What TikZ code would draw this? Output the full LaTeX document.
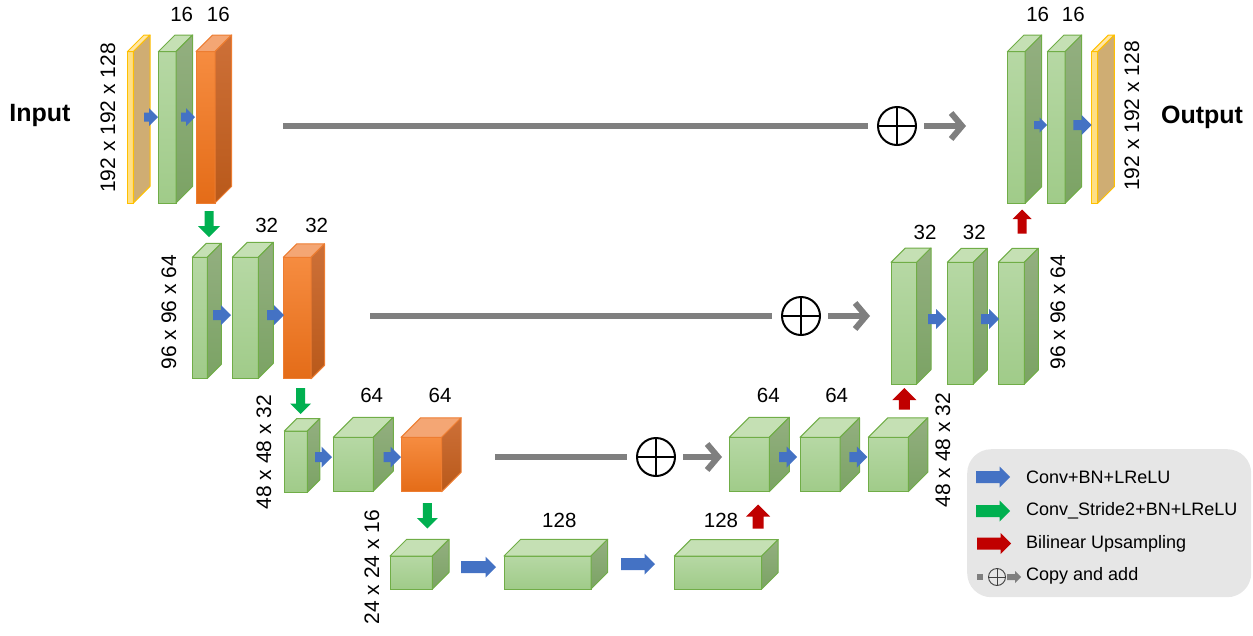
\documentclass[tikz,border=0pt]{standalone}
\usepackage{fontspec}
\setmainfont{Liberation Sans}
\usetikzlibrary{arrows.meta,calc}
\definecolor{gborder}{HTML}{70AD47}
\definecolor{gfronttop}{HTML}{B6D8A4}
\definecolor{gfrontbot}{HTML}{A0CB89}
\definecolor{gtopc}{HTML}{C5E0B4}
\definecolor{gsidetop}{HTML}{93AF80}
\definecolor{gsidebot}{HTML}{7BA364}
\definecolor{oborder}{HTML}{ED7D31}
\definecolor{ofronttop}{HTML}{F68C40}
\definecolor{ofrontbot}{HTML}{E46C18}
\definecolor{otopc}{HTML}{F4A674}
\definecolor{osidetop}{HTML}{CD7038}
\definecolor{osidebot}{HTML}{B9591A}
\definecolor{yborder}{HTML}{FFC000}
\definecolor{yfrontc}{HTML}{FFDF85}
\definecolor{ytopc}{HTML}{FFE6A6}
\definecolor{ysidec}{HTML}{CFAD73}
\definecolor{arrblue}{HTML}{4472C4}
\definecolor{arrgreen}{HTML}{00B050}
\definecolor{arrred}{HTML}{C00000}
\definecolor{skipgray}{HTML}{7F7F7F}
\definecolor{leggray}{HTML}{E6E6E6}
\tikzset{
  gfront/.style={draw=gborder, line width=1pt, top color=gfronttop, bottom color=gfrontbot, inner sep=0pt, outer sep=0pt},
  gtop/.style={draw=gborder, line width=1pt, fill=gtopc, line join=round},
  gside/.style={draw=gborder, line width=1pt, top color=gsidetop, bottom color=gsidebot, line join=round},
  ofront/.style={draw=oborder, line width=1pt, top color=ofronttop, bottom color=ofrontbot, inner sep=0pt, outer sep=0pt},
  otop/.style={draw=oborder, line width=1pt, fill=otopc, line join=round},
  oside/.style={draw=oborder, line width=1pt, top color=osidetop, bottom color=osidebot, line join=round},
  yfront/.style={draw=yborder, line width=1pt, fill=yfrontc, inner sep=0pt, outer sep=0pt},
  ytop/.style={draw=yborder, line width=1pt, fill=ytopc, line join=round},
  yside/.style={draw=yborder, line width=1pt, fill=ysidec, line join=round},
  num/.style={font=\fontsize{20.5}{24}\selectfont, inner sep=0pt},
  dimlab/.style={font=\fontsize{21}{25}\selectfont, rotate=90, inner sep=0pt},
  legtext/.style={font=\fontsize{18}{22}\selectfont, anchor=west, inner sep=0pt},
  iolab/.style={font=\fontsize{25}{30}\selectfont\bfseries, inner sep=0pt},
  oplus/.style={circle, draw, line width=2pt, minimum size=38pt, inner sep=0pt,
    path picture={\draw[line width=2pt] (path picture bounding box.north) -- (path picture bounding box.south)
      (path picture bounding box.west) -- (path picture bounding box.east);}},
  skipline/.style={draw=skipgray, line width=6pt},
  skiparrow/.style={draw=skipgray, line width=6pt, -{Straight Barb[length=11pt,width=26pt]}},
}
% block: name, x, y (front top-left), w, h, depth, style prefix
\newcommand\blk[7]{%
  \node[#7front, minimum width=#4pt, minimum height=#5pt, anchor=north west] (#1) at (#2,#3) {};
  \draw[#7top] (#1.north west) -- ++(#6,-#6) -- ++(#4,0) -- (#1.north east) -- cycle;
  \draw[#7side] (#1.north east) -- ++(#6,-#6) -- ++(0,#5) -- (#1.south east) -- cycle;
}
% fat arrow: tail x, tail y, angle, length, head width, shaft width, colour
\newcommand\farr[7]{%
  \fill[#7, shift={(#1,#2)}, rotate=#3] (0,-#6/2) -- ({#4-#5/2},-#6/2) -- ({#4-#5/2},-#5/2) -- (#4,0)
    -- ({#4-#5/2},#5/2) -- ({#4-#5/2},#6/2) -- (0,#6/2) -- cycle;
}
\begin{document}
\begin{tikzpicture}[x=1pt,y=-1pt]
\useasboundingbox (0,0) rectangle (1253,635);

% ---------- level 1 left
\blk{y1}{127.3}{51.7}{6}{151.3}{16.7}{y}
\blk{g1}{158.3}{51.7}{17.7}{151.3}{16.7}{g}
\blk{o1}{196}{51.7}{19}{151.3}{16.7}{o}
% ---------- level 2 left
\blk{g2a}{192.3}{257.3}{15}{121}{14}{g}
\blk{g2b}{232.3}{257.3}{26}{121}{15}{g}
\blk{o2}{283.3}{257.3}{27.7}{121.5}{13.5}{o}
% ---------- level 3 left
\blk{g3a}{284.3}{431}{23}{61.3}{12.5}{g}
\blk{g3b}{333.3}{437.3}{40}{53.7}{20}{g}
\blk{o3}{401}{437.3}{40.7}{54.4}{19.5}{o}
% ---------- bottom
\blk{b1}{390}{556}{42.3}{33}{16.7}{g}
\blk{b2}{504}{556}{87}{33}{16.7}{g}
\blk{b3}{674.3}{556}{87.4}{33}{16.5}{g}
% ---------- level 3 right
\blk{r3a}{729.3}{437.3}{40}{54.4}{20}{g}
\blk{r3b}{800}{437.3}{40}{54.4}{19.5}{g}
\blk{r3c}{868.3}{437.3}{40}{54.4}{19.5}{g}
% ---------- level 2 right
\blk{r2a}{891}{262.3}{25.7}{121.7}{14.3}{g}
\blk{r2b}{947.3}{262.3}{26}{121.7}{14}{g}
\blk{r2c}{998.3}{262.3}{26}{121.7}{14}{g}
% ---------- level 1 right
\blk{r1a}{1007.3}{51.7}{17.7}{151.6}{16.7}{g}
\blk{r1b}{1047.3}{51.7}{17.7}{151.6}{16.7}{g}
\blk{ry}{1091.7}{51.7}{6}{151.6}{16.6}{y}

% ---------- blue conv arrows
\farr{144}{117}{0}{14}{18}{9}{arrblue}
\farr{181}{117}{0}{14}{18}{9}{arrblue}
\farr{213}{315}{0}{18}{20}{10}{arrblue}
\farr{267}{315}{0}{17}{20}{10}{arrblue}
\farr{315}{457}{0}{17}{21}{10}{arrblue}
\farr{383.5}{457}{0}{17.5}{21}{10}{arrblue}
\farr{461}{567}{0}{35}{21}{12}{arrblue}
\farr{621}{564}{0}{34}{21}{12}{arrblue}
\farr{779}{457}{0}{18}{21}{10}{arrblue}
\farr{849.3}{457}{0}{18}{21}{10}{arrblue}
\farr{928}{319}{0}{18}{20}{10}{arrblue}
\farr{981}{319}{0}{18}{20}{10}{arrblue}
\farr{1034}{125}{0}{13}{15}{8}{arrblue}
\farr{1073.3}{125}{0}{18.4}{20}{10}{arrblue}

% ---------- green stride arrows
\farr{209}{211}{-90}{26}{22}{9}{arrgreen}
\farr{300.7}{388}{-90}{26}{21}{9}{arrgreen}
\farr{427.3}{503}{-90}{25.5}{21}{9}{arrgreen}

% ---------- red upsampling arrows
\farr{758}{528.5}{90}{24}{24}{11}{arrred}
\farr{904.3}{409.5}{90}{21.5}{24}{11}{arrred}
\farr{1022}{233.5}{90}{24}{19}{9}{arrred}

% ---------- skip connections
\coordinate (s1) at (283,126);
\node[oplus] (p1) at (897,126) {};
\coordinate (t1) at (966,126);
\draw[skipline] (s1) -- ([xshift=-9pt]p1.west);
\draw[skiparrow] ([xshift=7pt]p1.east) -- (t1);

\coordinate (s2) at (370,316);
\node[oplus] (p2) at (801,316) {};
\coordinate (t2) at (870,316);
\draw[skipline] (s2) -- ([xshift=-9pt]p2.west);
\draw[skiparrow] ([xshift=7pt]p2.east) -- (t2);

\coordinate (s3) at (495,457);
\node[oplus] (p3) at (656,457) {};
\coordinate (t3) at (722,457);
\draw[skipline] (s3) -- ([xshift=-9pt]p3.west);
\draw[skiparrow] ([xshift=7pt]p3.east) -- (t3);

% ---------- channel numbers
\node[num] (n1a) at (181.7,14) {16};
\node[num] (n1b) at (218.3,14) {16};
\node[num] (n2a) at (266.7,225) {32};
\node[num] (n2b) at (316.7,225) {32};
\node[num] (n3a) at (371.7,395) {64};
\node[num] (n3b) at (440,395) {64};
\node[num] (n4a) at (559.3,520) {128};
\node[num] (n4b) at (721,520) {128};
\node[num] (m3a) at (768.3,395) {64};
\node[num] (m3b) at (836.7,395) {64};
\node[num] (m2a) at (925,232) {32};
\node[num] (m2b) at (974.3,232) {32};
\node[num] (m1a) at (1037.7,14) {16};
\node[num] (m1b) at (1073.3,14) {16};

% ---------- dimension labels
\node[dimlab] (d1) at (108,118) {192 x 192 x 128};
\node[dimlab] (d2) at (169,312) {96 x 96 x 64};
\node[dimlab] (d3) at (264,452) {48 x 48 x 32};
\node[dimlab] (d4) at (372,567) {24 x 24 x 16};
\node[dimlab] (e3) at (943,450) {48 x 48 x 32};
\node[dimlab] (e2) at (1058,312) {96 x 96 x 64};
\node[dimlab] (e1) at (1132,116) {192 x 192 x 128};

\node[iolab] (inp) at (40,115) {Input};
\node[iolab] (outp) at (1202,117) {Output};

% ---------- legend
\node[fill=leggray, rounded corners=24pt, minimum width=284pt, minimum height=148pt, anchor=north west, inner sep=0pt] (legend) at (967,449) {};
\farr{976}{477}{0}{34}{21}{12}{arrblue}
\farr{976}{511}{0}{34}{21}{12}{arrgreen}
\farr{977}{543.5}{0}{34}{21}{12}{arrred}
\node[legtext] (l1) at (1026,477) {Conv+BN+LReLU};
\node[legtext] (l2) at (1026,511) {Conv\_Stride2+BN+LReLU};
\node[legtext] (l3) at (1026,543.5) {Bilinear Upsampling};
\node[fill=skipgray, minimum size=6pt, inner sep=0pt] (lsq) at (980,577) {};
\node[circle, draw=black!75, line width=0.9pt, minimum size=17pt, inner sep=0pt,
  path picture={\draw[black!75, line width=0.9pt] (path picture bounding box.north) -- (path picture bounding box.south)
      (path picture bounding box.west) -- (path picture bounding box.east);}] (lc) at (997,577) {};
\farr{1007}{577}{0}{14}{12}{6}{skipgray}
\node[legtext] (l4) at (1026,576) {Copy and add};
\end{tikzpicture}
\end{document}
